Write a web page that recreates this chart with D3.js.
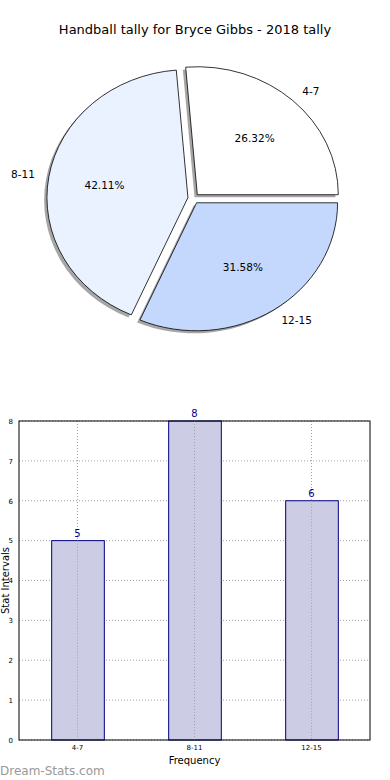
<!DOCTYPE html>
<html>
<head>
<meta charset="utf-8">
<script src="https://cdn.jsdelivr.net/npm/d3@7"></script>
<style>
  body { margin: 0; background: #fff; }
  svg { display: block; font-family: "DejaVu Sans", sans-serif; }
</style>
</head>
<body>
<div id="chart"></div>
<script>
// chart data
const categories = ['4-7', '8-11', '12-15'];
const counts = [5, 8, 6];
const sliceColors = ['#ffffff', '#eaf1ff', '#c4d8fe'];
const yTicks = [0, 1, 2, 3, 4, 5, 6, 7, 8];

const title = 'Handball tally for Bryce Gibbs - 2018 tally';

const width = 390;
const height = 780;

const svg = d3.select('#chart')
    .append('svg')
    .attr('width', width)
    .attr('height', height);

svg.append('text')
    .attr('x', 195)
    .attr('y', 34)
    .attr('text-anchor', 'middle')
    .attr('font-size', 13)
    .text(title);

// ---- pie (matplotlib style: start at 3 o'clock, counterclockwise, exploded, elliptical) ----
const cx = 193.5, cy = 198.5;
const rx = 141, ry = 128;
const explode = 0.04;
const R = 100; // unit radius, scaled to rx/ry

const total = d3.sum(counts);
const pie = d3.pie()
    .sort(null)
    .startAngle(Math.PI / 2)
    .endAngle(Math.PI / 2 - 2 * Math.PI);

const arcs = pie(counts);
const arc = d3.arc().innerRadius(0).outerRadius(R);

const pieGroup = svg.append('g').attr('class', 'pie');

function pos(a, dist) {
    return [Math.sin(a) * dist, -Math.cos(a) * dist];
}

// shadows first
arcs.forEach((d, i) => {
    const m = (d.startAngle + d.endAngle) / 2;
    const [ox, oy] = pos(m, explode);
    pieGroup.append('path')
        .attr('d', arc(d))
        .attr('transform', `translate(${cx + ox * rx - 0.02 * rx},${cy + oy * ry + 0.02 * ry}) scale(${rx / R},${ry / R})`)
        .attr('fill', '#000')
        .attr('fill-opacity', 0.35);
});

arcs.forEach((d, i) => {
    const m = (d.startAngle + d.endAngle) / 2;
    const [ox, oy] = pos(m, explode);
    pieGroup.append('path')
        .attr('d', arc(d))
        .attr('transform', `translate(${cx + ox * rx},${cy + oy * ry}) scale(${rx / R},${ry / R})`)
        .attr('fill', sliceColors[i])
        .attr('stroke', '#000')
        .attr('stroke-width', 0.8)
        .attr('vector-effect', 'non-scaling-stroke');
});

// labels
arcs.forEach((d, i) => {
    const m = (d.startAngle + d.endAngle) / 2;
    const [ux, uy] = pos(m, 1);
    const x0 = cx + ux * explode * rx;
    const y0 = cy + uy * explode * ry;

    pieGroup.append('text')
        .attr('x', x0 + ux * 1.1 * rx)
        .attr('y', y0 + uy * 1.1 * ry)
        .attr('dy', '0.35em')
        .attr('text-anchor', ux > 0 ? 'start' : 'end')
        .attr('font-size', 10.5)
        .text(categories[i]);

    pieGroup.append('text')
        .attr('x', x0 + ux * 0.6 * rx)
        .attr('y', y0 + uy * 0.6 * ry)
        .attr('dy', '0.35em')
        .attr('text-anchor', 'middle')
        .attr('font-size', 10.5)
        .text((counts[i] / total * 100).toFixed(2) + '%');
});

// ---- bar chart ----
const margin = { left: 19, right: 20, top: 421, bottom: 40 };
const plotW = width - margin.left - margin.right;
const plotH = height - margin.top - margin.bottom;

const bars = svg.append('g').attr('transform', `translate(${margin.left},${margin.top})`);

const x = d3.scaleBand()
    .domain(categories)
    .range([0, plotW])
    .paddingInner(0.55)
    .paddingOuter(0.275);

const y = d3.scaleLinear()
    .domain([0, 8])
    .range([plotH, 0]);

// grid
bars.append('g')
    .selectAll('line')
    .data(yTicks)
    .join('line')
    .attr('x1', 0)
    .attr('x2', plotW)
    .attr('y1', d => y(d))
    .attr('y2', d => y(d))
    .attr('stroke', '#a0a0a0')
    .attr('stroke-width', 1)
    .attr('stroke-dasharray', '1,2');

bars.append('g')
    .selectAll('line')
    .data(categories)
    .join('line')
    .attr('x1', d => x(d) + x.bandwidth() / 2)
    .attr('x2', d => x(d) + x.bandwidth() / 2)
    .attr('y1', 0)
    .attr('y2', plotH)
    .attr('stroke', '#a0a0a0')
    .attr('stroke-width', 1)
    .attr('stroke-dasharray', '1,2');

bars.append('g')
    .selectAll('rect')
    .data(counts)
    .join('rect')
    .attr('x', (d, i) => x(categories[i]) + 0.5)
    .attr('y', d => y(d))
    .attr('width', x.bandwidth())
    .attr('height', d => plotH - y(d))
    .attr('fill', '#ccccE5')
    .attr('stroke', '#000080')
    .attr('stroke-width', 1);

// vertical grid stays visible over the bars
bars.append('g')
    .selectAll('line')
    .data(categories)
    .join('line')
    .attr('x1', d => x(d) + x.bandwidth() / 2)
    .attr('x2', d => x(d) + x.bandwidth() / 2)
    .attr('y1', (d, i) => y(counts[i]))
    .attr('y2', plotH)
    .attr('stroke', '#a0a0b0')
    .attr('stroke-width', 1)
    .attr('stroke-dasharray', '1,2');

bars.append('g')
    .selectAll('text')
    .data(counts)
    .join('text')
    .attr('x', (d, i) => x(categories[i]) + x.bandwidth() / 2)
    .attr('y', d => y(d) - 4)
    .attr('text-anchor', 'middle')
    .attr('font-size', 10)
    .attr('fill', '#00008b')
    .text(d => d);

// frame
bars.append('rect')
    .attr('width', plotW)
    .attr('height', plotH)
    .attr('fill', 'none')
    .attr('stroke', '#000')
    .attr('stroke-width', 1);

const yAxis = d3.axisLeft(y).tickValues(yTicks).tickSize(0).tickPadding(6);
bars.append('g')
    .call(yAxis)
    .call(g => g.select('.domain').remove())
    .selectAll('text')
    .attr('font-size', 7)
    .attr('font-family', '"DejaVu Sans", sans-serif');

const xAxis = d3.axisBottom(x).tickSize(0).tickPadding(5);
bars.append('g')
    .attr('transform', `translate(0,${plotH})`)
    .call(xAxis)
    .call(g => g.select('.domain').remove())
    .selectAll('text')
    .attr('font-size', 7)
    .attr('font-family', '"DejaVu Sans", sans-serif');

svg.append('text')
    .attr('x', margin.left + plotW / 2)
    .attr('y', 764)
    .attr('text-anchor', 'middle')
    .attr('font-size', 10)
    .text('Frequency');

svg.append('text')
    .attr('transform', `translate(9,${margin.top + plotH / 2}) rotate(-90)`)
    .attr('text-anchor', 'middle')
    .attr('font-size', 10)
    .text('Stat Intervals');

svg.append('text')
    .attr('x', 0)
    .attr('y', 775)
    .attr('font-size', 12)
    .attr('fill', '#999999')
    .text('Dream-Stats.com');
</script>
</body>
</html>
